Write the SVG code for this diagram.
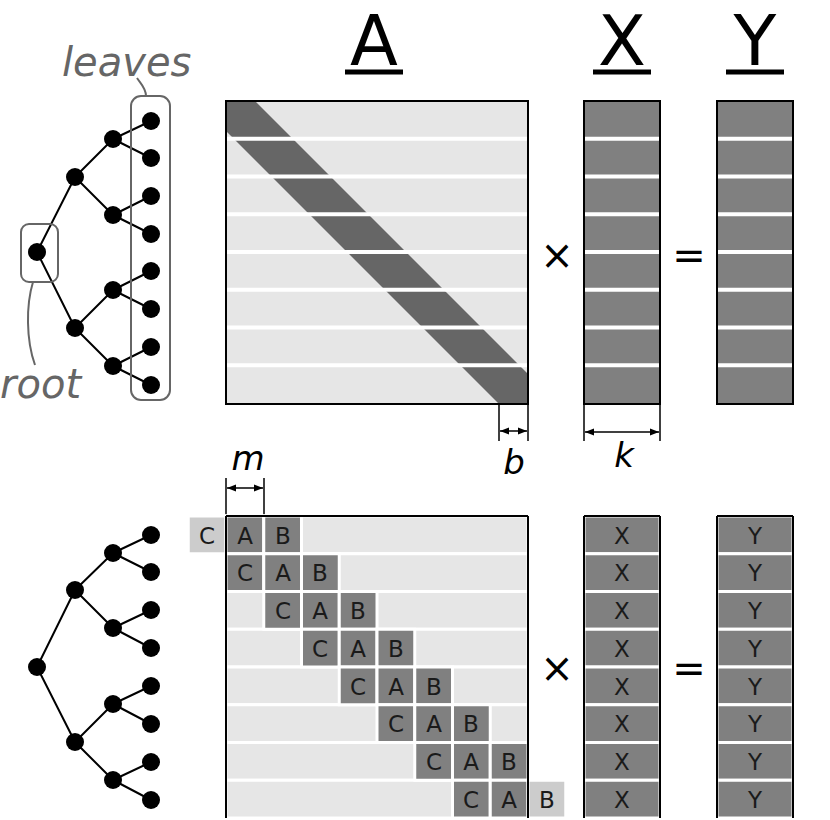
<svg xmlns="http://www.w3.org/2000/svg" width="830" height="820" viewBox="0 0 830 820">
<defs>
<style>
.edge{stroke:#000;stroke-width:2;fill:none}
.node{fill:#000}
.gbox{fill:none;stroke:#666;stroke-width:2}
.lbl{font-family:"DejaVu Sans",sans-serif;font-style:italic;font-size:40px;fill:#666}
.dim{font-family:"DejaVu Sans",sans-serif;font-style:italic;font-size:34px;fill:#000}
.big{font-family:"DejaVu Sans",sans-serif;font-size:70px;fill:#000;text-anchor:middle}
.op{font-family:"DejaVu Sans",sans-serif;font-size:40px;fill:#000;text-anchor:middle}
.sep{stroke:#fff;stroke-width:4}
.row{fill:#e6e6e6;stroke:#fff;stroke-width:3}
.cd{fill:#808080;stroke:#fff;stroke-width:3}
.cl{fill:#ccc;stroke:#fff;stroke-width:3}
.ct{font-family:"DejaVu Sans",sans-serif;font-size:23px;fill:#1a1a1a;text-anchor:middle}
.bd{fill:none;stroke:#000;stroke-width:2}
.dl{stroke:#000;stroke-width:1.5;fill:none}
</style>
<marker id="ah" viewBox="0 0 10 10" refX="10" refY="5" markerWidth="6" markerHeight="6" orient="auto-start-reverse"><path d="M0,1 L10,5 L0,9 z" fill="#000"/></marker>
</defs>

<g id="titles">
<text class="big" x="374" y="65">A</text><line x1="345" y1="72" x2="403" y2="72" stroke="#000" stroke-width="5"/>
<text class="big" x="622" y="65">X</text><line x1="593" y1="72" x2="651" y2="72" stroke="#000" stroke-width="5"/>
<text class="big" x="755" y="65">Y</text><line x1="726" y1="72" x2="784" y2="72" stroke="#000" stroke-width="5"/>
</g>

<g id="tree-top">
<g class="edge">
<path d="M37,252 L75,177 M37,252 L75,328 M75,177 L113,139 M75,177 L113,215 M75,328 L113,290 M75,328 L113,366 M113,139 L151,121 M113,139 L151,158 M113,215 L151,196 M113,215 L151,234 M113,290 L151,271 M113,290 L151,309 M113,366 L151,347 M113,366 L151,385"/>
</g>
<g class="node">
<circle cx="37" cy="252" r="9"/><circle cx="75" cy="177" r="9"/><circle cx="75" cy="328" r="9"/>
<circle cx="113" cy="139" r="9"/><circle cx="113" cy="215" r="9"/><circle cx="113" cy="290" r="9"/><circle cx="113" cy="366" r="9"/>
<circle cx="151" cy="121" r="9"/><circle cx="151" cy="158" r="9"/><circle cx="151" cy="196" r="9"/><circle cx="151" cy="234" r="9"/>
<circle cx="151" cy="271" r="9"/><circle cx="151" cy="309" r="9"/><circle cx="151" cy="347" r="9"/><circle cx="151" cy="385" r="9"/>
</g>
<rect class="gbox" x="21" y="224" width="37" height="58" rx="8"/>
<rect class="gbox" x="131" y="96" width="39" height="304" rx="10"/>
<path class="gbox" d="M146,96 C146,88 141,84 137,78"/>
<path class="gbox" d="M33,282 C26,305 26,340 35,365"/>
<text class="lbl" x="62" y="76">leaves</text>
<text class="lbl" x="0" y="398">root</text>
</g>

<g id="matrix-A">
<rect x="226" y="101" width="302" height="303" fill="#e6e6e6"/>
<polygon points="226,101 255,101 528,374 528,404 499,404 226,131" fill="#666"/>
<g class="sep">
<line x1="226" y1="138.75" x2="528" y2="138.75"/><line x1="226" y1="176.5" x2="528" y2="176.5"/><line x1="226" y1="214.25" x2="528" y2="214.25"/><line x1="226" y1="252" x2="528" y2="252"/><line x1="226" y1="289.75" x2="528" y2="289.75"/><line x1="226" y1="327.5" x2="528" y2="327.5"/><line x1="226" y1="365.25" x2="528" y2="365.25"/>
</g>
<rect class="bd" x="226" y="101" width="302" height="303"/>
</g>

<g id="vec-X">
<rect x="584" y="101" width="76" height="303" fill="#808080"/>
<g class="sep">
<line x1="584" y1="138.75" x2="660" y2="138.75"/><line x1="584" y1="176.5" x2="660" y2="176.5"/><line x1="584" y1="214.25" x2="660" y2="214.25"/><line x1="584" y1="252" x2="660" y2="252"/><line x1="584" y1="289.75" x2="660" y2="289.75"/><line x1="584" y1="327.5" x2="660" y2="327.5"/><line x1="584" y1="365.25" x2="660" y2="365.25"/>
</g>
<rect class="bd" x="584" y="101" width="76" height="303"/>
</g>

<g id="vec-Y">
<rect x="717" y="101" width="76" height="303" fill="#808080"/>
<g class="sep">
<line x1="717" y1="138.75" x2="793" y2="138.75"/><line x1="717" y1="176.5" x2="793" y2="176.5"/><line x1="717" y1="214.25" x2="793" y2="214.25"/><line x1="717" y1="252" x2="793" y2="252"/><line x1="717" y1="289.75" x2="793" y2="289.75"/><line x1="717" y1="327.5" x2="793" y2="327.5"/><line x1="717" y1="365.25" x2="793" y2="365.25"/>
</g>
<rect class="bd" x="717" y="101" width="76" height="303"/>
</g>

<g id="ops-top">
<text class="op" x="557" y="269">×</text>
<text class="op" x="689" y="269">=</text>
</g>

<g id="dims">
<line class="dl" x1="499" y1="404" x2="499" y2="441"/><line class="dl" x1="528" y1="404" x2="528" y2="441"/>
<line class="dl" x1="500" y1="431" x2="527" y2="431" marker-start="url(#ah)" marker-end="url(#ah)"/>
<text class="dim" x="514" y="474" text-anchor="middle">b</text>
<line class="dl" x1="584" y1="404" x2="584" y2="441"/><line class="dl" x1="660" y1="404" x2="660" y2="441"/>
<line class="dl" x1="585" y1="432" x2="659" y2="432" marker-start="url(#ah)" marker-end="url(#ah)"/>
<text class="dim" x="624" y="467" text-anchor="middle">k</text>
<line class="dl" x1="226" y1="478" x2="226" y2="516"/><line class="dl" x1="264" y1="478" x2="264" y2="516"/>
<line class="dl" x1="227" y1="488" x2="263" y2="488" marker-start="url(#ah)" marker-end="url(#ah)"/>
<text class="dim" x="248" y="470" text-anchor="middle">m</text>
</g>

<g id="tree-bottom">
<g class="edge">
<path d="M37,667 L75,590 M37,667 L75,742 M75,590 L113,553 M75,590 L113,628 M75,742 L113,704 M75,742 L113,780 M113,553 L151,535 M113,553 L151,572 M113,628 L151,610 M113,628 L151,648 M113,704 L151,686 M113,704 L151,724 M113,780 L151,762 M113,780 L151,800"/>
</g>
<g class="node">
<circle cx="37" cy="667" r="9"/><circle cx="75" cy="590" r="9"/><circle cx="75" cy="742" r="9"/>
<circle cx="113" cy="553" r="9"/><circle cx="113" cy="628" r="9"/><circle cx="113" cy="704" r="9"/><circle cx="113" cy="780" r="9"/>
<circle cx="151" cy="535" r="9"/><circle cx="151" cy="572" r="9"/><circle cx="151" cy="610" r="9"/><circle cx="151" cy="648" r="9"/>
<circle cx="151" cy="686" r="9"/><circle cx="151" cy="724" r="9"/><circle cx="151" cy="762" r="9"/><circle cx="151" cy="800" r="9"/>
</g>
</g>

<g id="matrix-A-blocks">
<rect class="row" x="226" y="516" width="302" height="37.75"/>
<rect class="row" x="226" y="553.75" width="302" height="37.75"/>
<rect class="row" x="226" y="591.5" width="302" height="37.75"/>
<rect class="row" x="226" y="629.25" width="302" height="37.75"/>
<rect class="row" x="226" y="667" width="302" height="37.75"/>
<rect class="row" x="226" y="704.75" width="302" height="37.75"/>
<rect class="row" x="226" y="742.5" width="302" height="37.75"/>
<rect class="row" x="226" y="780.25" width="302" height="37.75"/>

<rect class="cl" x="188.25" y="516" width="37.75" height="37.75"/><rect class="cd" x="226" y="516" width="37.75" height="37.75"/><rect class="cd" x="263.75" y="516" width="37.75" height="37.75"/>
<rect class="cd" x="226" y="553.75" width="37.75" height="37.75"/><rect class="cd" x="263.75" y="553.75" width="37.75" height="37.75"/><rect class="cd" x="301.5" y="553.75" width="37.75" height="37.75"/>
<rect class="cd" x="263.75" y="591.5" width="37.75" height="37.75"/><rect class="cd" x="301.5" y="591.5" width="37.75" height="37.75"/><rect class="cd" x="339.25" y="591.5" width="37.75" height="37.75"/>
<rect class="cd" x="301.5" y="629.25" width="37.75" height="37.75"/><rect class="cd" x="339.25" y="629.25" width="37.75" height="37.75"/><rect class="cd" x="377" y="629.25" width="37.75" height="37.75"/>
<rect class="cd" x="339.25" y="667" width="37.75" height="37.75"/><rect class="cd" x="377" y="667" width="37.75" height="37.75"/><rect class="cd" x="414.75" y="667" width="37.75" height="37.75"/>
<rect class="cd" x="377" y="704.75" width="37.75" height="37.75"/><rect class="cd" x="414.75" y="704.75" width="37.75" height="37.75"/><rect class="cd" x="452.5" y="704.75" width="37.75" height="37.75"/>
<rect class="cd" x="414.75" y="742.5" width="37.75" height="37.75"/><rect class="cd" x="452.5" y="742.5" width="37.75" height="37.75"/><rect class="cd" x="490.25" y="742.5" width="37.75" height="37.75"/>
<rect class="cd" x="452.5" y="780.25" width="37.75" height="37.75"/><rect class="cd" x="490.25" y="780.25" width="37.75" height="37.75"/><rect class="cl" x="528" y="780.25" width="37.75" height="37.75"/>

<line x1="226" y1="516" x2="528" y2="516" stroke="#000" stroke-width="2"/>
<line x1="226" y1="516" x2="226" y2="818" stroke="#000" stroke-width="2"/>
<line x1="528" y1="516" x2="528" y2="818" stroke="#000" stroke-width="2"/>

<g class="ct">
<text x="207" y="543.5">C</text><text x="245" y="543.5">A</text><text x="283" y="543.5">B</text>
<text x="245" y="581.25">C</text><text x="283" y="581.25">A</text><text x="320" y="581.25">B</text>
<text x="283" y="619">C</text><text x="320" y="619">A</text><text x="358" y="619">B</text>
<text x="320" y="656.75">C</text><text x="358" y="656.75">A</text><text x="396" y="656.75">B</text>
<text x="358" y="694.5">C</text><text x="396" y="694.5">A</text><text x="434" y="694.5">B</text>
<text x="396" y="732.25">C</text><text x="434" y="732.25">A</text><text x="471" y="732.25">B</text>
<text x="434" y="770">C</text><text x="471" y="770">A</text><text x="509" y="770">B</text>
<text x="471" y="807.75">C</text><text x="509" y="807.75">A</text><text x="547" y="807.75">B</text>
</g>
</g>

<g id="vec-X-bottom">
<rect class="cd" x="584" y="516" width="76" height="37.75"/><rect class="cd" x="584" y="553.75" width="76" height="37.75"/><rect class="cd" x="584" y="591.5" width="76" height="37.75"/><rect class="cd" x="584" y="629.25" width="76" height="37.75"/><rect class="cd" x="584" y="667" width="76" height="37.75"/><rect class="cd" x="584" y="704.75" width="76" height="37.75"/><rect class="cd" x="584" y="742.5" width="76" height="37.75"/><rect class="cd" x="584" y="780.25" width="76" height="37.75"/>
<line x1="584" y1="516" x2="660" y2="516" stroke="#000" stroke-width="2"/>
<line x1="584" y1="516" x2="584" y2="818" stroke="#000" stroke-width="2"/>
<line x1="660" y1="516" x2="660" y2="818" stroke="#000" stroke-width="2"/>
<g class="ct">
<text x="622" y="543.5">X</text><text x="622" y="581.25">X</text><text x="622" y="619">X</text><text x="622" y="656.75">X</text><text x="622" y="694.5">X</text><text x="622" y="732.25">X</text><text x="622" y="770">X</text><text x="622" y="807.75">X</text>
</g>
</g>

<g id="vec-Y-bottom">
<rect class="cd" x="717" y="516" width="76" height="37.75"/><rect class="cd" x="717" y="553.75" width="76" height="37.75"/><rect class="cd" x="717" y="591.5" width="76" height="37.75"/><rect class="cd" x="717" y="629.25" width="76" height="37.75"/><rect class="cd" x="717" y="667" width="76" height="37.75"/><rect class="cd" x="717" y="704.75" width="76" height="37.75"/><rect class="cd" x="717" y="742.5" width="76" height="37.75"/><rect class="cd" x="717" y="780.25" width="76" height="37.75"/>
<line x1="717" y1="516" x2="793" y2="516" stroke="#000" stroke-width="2"/>
<line x1="717" y1="516" x2="717" y2="818" stroke="#000" stroke-width="2"/>
<line x1="793" y1="516" x2="793" y2="818" stroke="#000" stroke-width="2"/>
<g class="ct">
<text x="755" y="543.5">Y</text><text x="755" y="581.25">Y</text><text x="755" y="619">Y</text><text x="755" y="656.75">Y</text><text x="755" y="694.5">Y</text><text x="755" y="732.25">Y</text><text x="755" y="770">Y</text><text x="755" y="807.75">Y</text>
</g>
</g>

<g id="ops-bottom">
<text class="op" x="557" y="682">×</text>
<text class="op" x="689" y="682">=</text>
</g>
</svg>
